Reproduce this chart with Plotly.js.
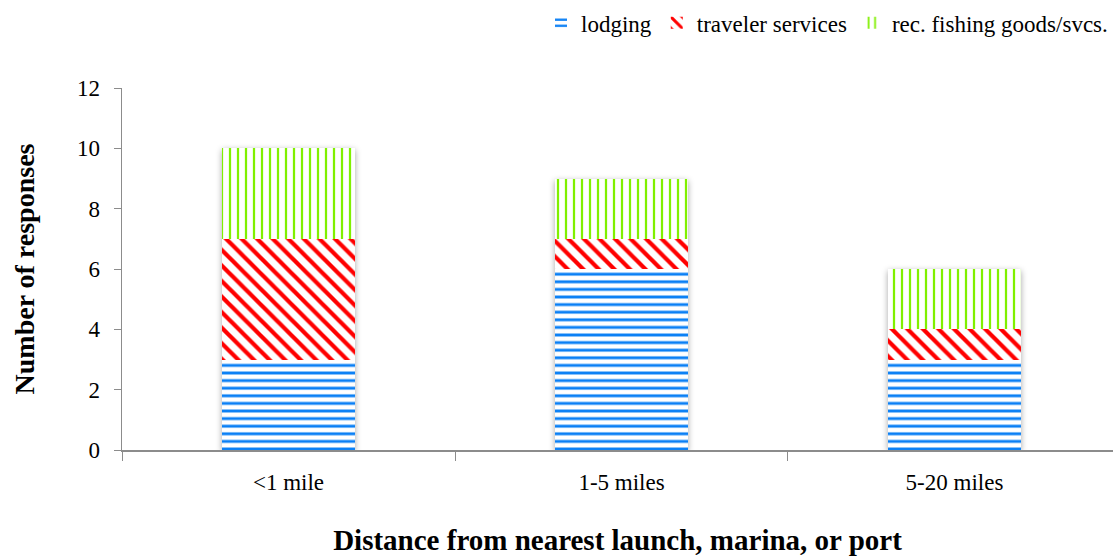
<!DOCTYPE html>
<html>
<head>
<meta charset="utf-8">
<script src="https://cdn.plot.ly/plotly-3.0.1.min.js"></script>
<style>
html,body{margin:0;padding:0;background:#fff;}
#chart{width:1113px;height:556px;}
g.barlayer{filter: drop-shadow(0px 2px 3px rgba(0,0,0,0.35));}
</style>
</head>
<body>
<div id="chart"></div>
<script>
const categories = ["<1 mile", "1-5 miles", "5-20 miles"];
const lodging = [3, 6, 3];
const travelerServices = [4, 1, 1];
const recFishing = [3, 2, 2];
const seriesNames = ["lodging", "traveler services", "rec. fishing goods/svcs."];
const yTicks = [0, 2, 4, 6, 8, 10, 12];

const FAM = "Liberation Serif";
function f(size, weight) {
  return {family: FAM, size: size, color: "#000", weight: weight || "normal", style: "normal"};
}

function barTrace(name, values, color, shape, size, solidity) {
  return {
    type: "bar", name: name, x: categories, y: values, width: 0.4,
    marker: {
      color: "#ffffff",
      line: {width: 0},
      pattern: {shape: shape, fgcolor: color, bgcolor: "#ffffff", size: size, solidity: solidity, fillmode: "replace"}
    },
    hoverinfo: "skip"
  };
}

const data = [
  barTrace(seriesNames[0], lodging, "#0a7ff5", "-", 7.6, 0.38),
  barTrace(seriesNames[1], travelerServices, "#ff0000", "\\", 11, 0.38),
  barTrace(seriesNames[2], recFishing, "#80f000", "|", 8, 0.28)
];

const layout = {
  width: 1113, height: 556,
  margin: {l: 122, r: 0, t: 88, b: 106},
  paper_bgcolor: "#fff", plot_bgcolor: "#fff",
  barmode: "stack",
  showlegend: true,
  legend: {orientation: "h", x: 1, xanchor: "right", y: 1.18, yanchor: "middle",
    font: f(23), traceorder: "normal", itemwidth: 30},
  font: f(22),
  xaxis: {
    range: [-0.5, 2.476], showgrid: false, zeroline: false,
    showline: true, linecolor: "#8c8c8c", linewidth: 1.5,
    ticks: "outside", tickson: "boundaries", ticklen: 9, tickcolor: "#8c8c8c",
    ticklabelstandoff: 11,
    tickfont: f(23),
    title: {text: "Distance from nearest launch, marina, or port", font: f(29, "bold"), standoff: 40}
  },
  yaxis: {
    range: [0, 12], tickvals: yTicks, showgrid: false, zeroline: false,
    showline: true, linecolor: "#8c8c8c", linewidth: 1.5,
    ticks: "outside", ticklen: 7, tickcolor: "#8c8c8c",
    ticklabelstandoff: 9,
    tickfont: f(23),
    title: {text: "Number of responses", font: f(28, "bold"), standoff: 34}
  }
};

Plotly.newPlot("chart", data, layout, {displayModeBar: false, staticPlot: true});
</script>
</body>
</html>
